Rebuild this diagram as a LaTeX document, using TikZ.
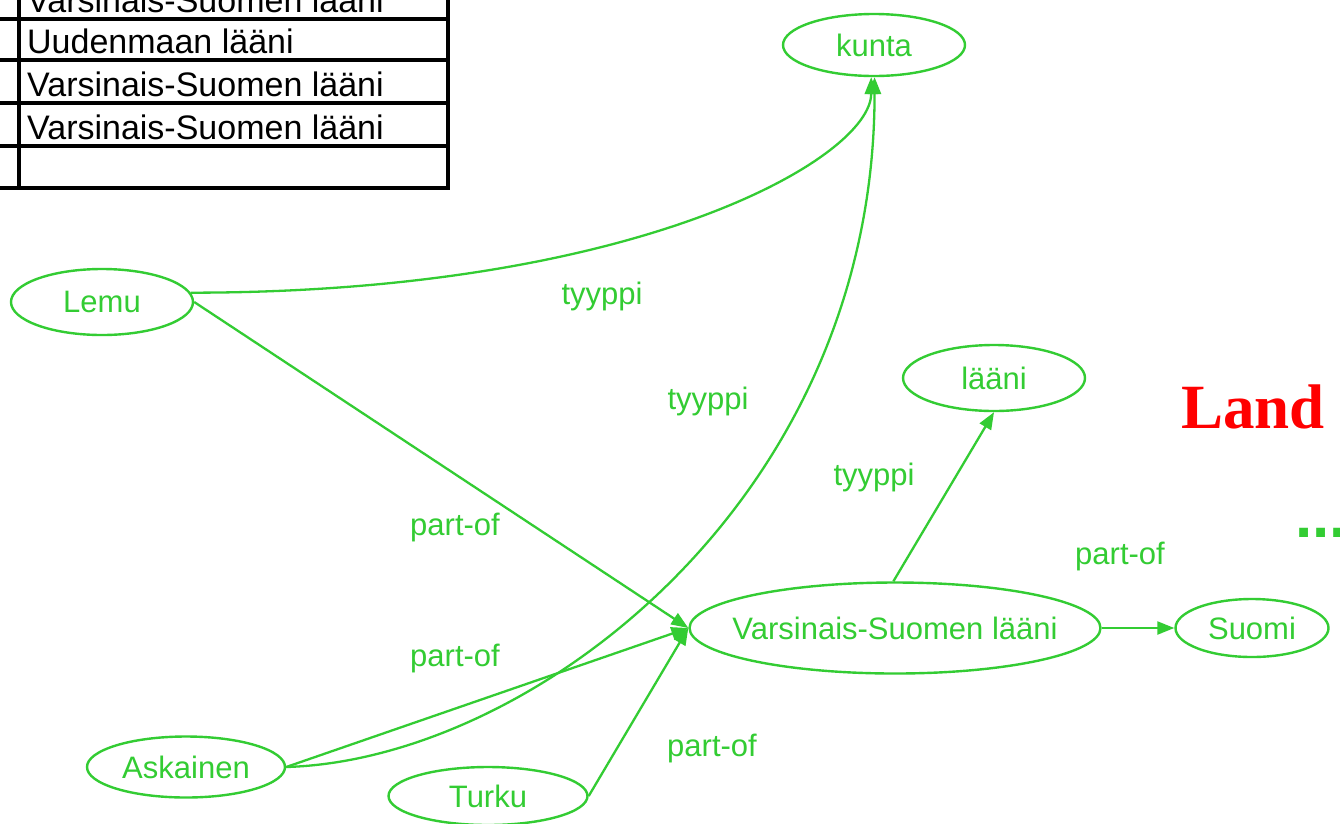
\documentclass[tikz,border=0pt]{standalone}
\usepackage{fontspec}
\setmainfont{Liberation Sans}
\newfontfamily\timesfont{Liberation Serif}
\usetikzlibrary{shapes.geometric,arrows.meta}
\definecolor{grn}{RGB}{51,204,51}
\definecolor{lred}{RGB}{255,0,0}
\begin{document}
\begin{tikzpicture}[x=1pt,y=-1pt,
  ent/.style={ellipse, draw=grn, line width=2.4pt, inner sep=0pt, text=grn,
    font=\fontsize{31}{31}\selectfont},
  lbl/.style={text=grn, inner sep=0pt, font=\fontsize{31}{31}\selectfont},
  edge/.style={draw=grn, line width=2.3pt, -{Triangle[length=17pt,width=13pt]}},
  cell/.style={anchor=base west, inner sep=0pt, font=\fontsize{34}{34}\selectfont},
  rule/.style={line width=3.2pt}
]
\useasboundingbox (0,0) rectangle (1340,823);
\fill[white] (0,0) rectangle (1340,823);

% table
\draw[rule] (0,19) -- (448,19);
\draw[rule] (0,60) -- (448,60);
\draw[rule] (0,103) -- (448,103);
\draw[rule] (0,146) -- (448,146);
\draw[rule] (0,188) -- (449.6,188);
\draw[rule] (19,-5) -- (19,189.6);
\draw[rule] (448,-5) -- (448,189.6);
\node[cell] (c0) at (27,12) {Varsinais-Suomen lääni};
\node[cell] (c1) at (27,53) {Uudenmaan lääni};
\node[cell] (c2) at (27,96) {Varsinais-Suomen lääni};
\node[cell] (c3) at (27,139) {Varsinais-Suomen lääni};

% entities
\node[ent, minimum width=182pt, minimum height=62pt] (kunta) at (874,45) {\makebox[0pt]{kunta}};
\node[ent, minimum width=182pt, minimum height=66pt] (lemu) at (102,302) {\makebox[0pt]{Lemu}};
\node[ent, minimum width=182pt, minimum height=66pt] (laani) at (994,378) {\makebox[0pt]{lääni}};
\node[ent, minimum width=411pt, minimum height=91pt] (vs) at (895,628) {\makebox[0pt]{Varsinais-Suomen lääni}};
\node[ent, minimum width=153pt, minimum height=58pt] (suomi) at (1252,628) {\makebox[0pt]{Suomi}};
\node[ent, minimum width=198pt, minimum height=61pt] (ask) at (186,767) {\makebox[0pt]{Askainen}};
\node[ent, minimum width=199pt, minimum height=58pt] (turku) at (488,796) {\makebox[0pt]{Turku}};

% edges
\draw[edge] (lemu.6) .. controls +(450,0) and +(0,80) .. (kunta.-95);
\draw[edge] (ask.east) .. controls +(245,-7) and +(0,423) .. (kunta.-89);
\draw[edge] (lemu.east) -- (vs.west);
\draw[edge] (ask.east) -- (vs.west);
\draw[edge] (turku.east) -- (vs.west);
\draw[edge] (vs.92) -- (laani.south);
\draw[edge] (vs.east) -- (suomi.west);

% labels
\node[lbl] (t1) at (602,296) {tyyppi};
\node[lbl] (t2) at (708,401) {tyyppi};
\node[lbl] (t3) at (874,477) {tyyppi};
\node[lbl] (p1) at (455,527) {part-of};
\node[lbl] (p2) at (455,658) {part-of};
\node[lbl] (p3) at (1120,556) {part-of};
\node[lbl] (p4) at (712,748) {part-of};

\node[text=lred, inner sep=0pt, font=\timesfont\bfseries\fontsize{63}{63}\selectfont] (land) at (1253,407) {Land};
\node[text=grn, anchor=base west, inner sep=0pt, font=\bfseries\fontsize{62}{62}\selectfont] (dots) at (1295,537) {...};
\end{tikzpicture}
\end{document}
